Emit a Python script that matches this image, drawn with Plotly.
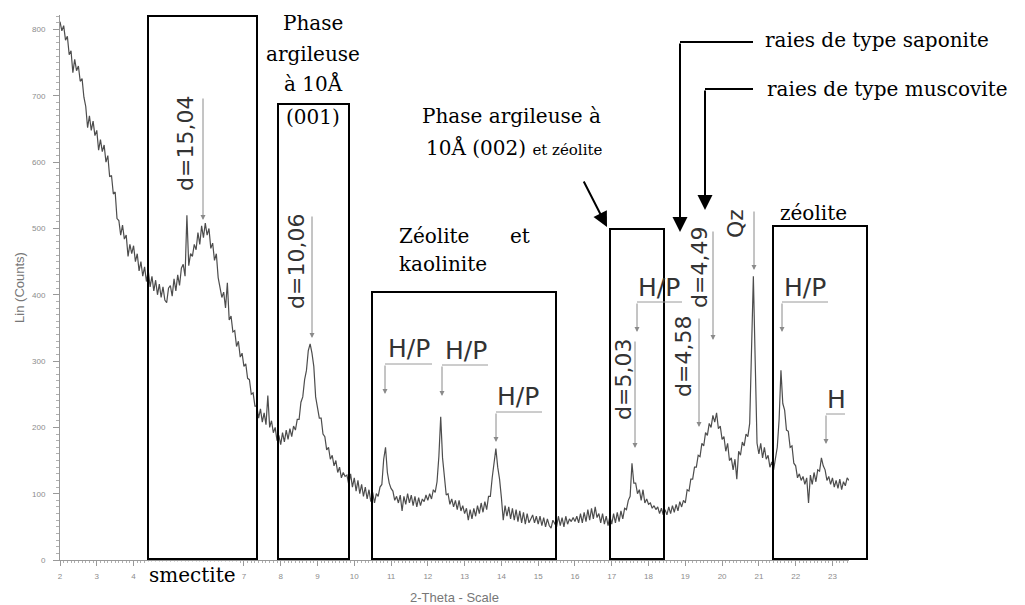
import plotly.graph_objects as go

# diffractogram: 2-theta start / step of the scan, counts
theta_start = 2.0
theta_step = 0.05

counts = [
    812, 798, 806, 784, 790, 762, 768, 735, 755, 738, 745, 722, 726, 698, 684, 652, 670, 648, 662, 640,   # 2
    648, 618, 634, 616, 626, 600, 610, 578, 580, 552, 555, 515, 512, 490, 505, 484, 490, 458, 476, 462,   # 3
    474, 450, 462, 436, 450, 428, 442, 420, 436, 412, 428, 406, 422, 400, 416, 396, 412, 392, 388, 410,   # 4
    414, 398, 424, 406, 430, 414, 440, 446, 428, 520, 444, 462, 458, 476, 468, 494, 476, 504, 486, 508,   # 5
    490, 500, 470, 478, 452, 462, 426, 412, 396, 404, 380, 418, 362, 368, 344, 346, 322, 330, 306, 312,   # 6
    292, 296, 274, 272, 250, 252, 232, 232, 214, 228, 208, 222, 204, 248, 200, 210, 192, 200, 180, 188,   # 7
    174, 192, 178, 196, 182, 198, 186, 202, 196, 212, 212, 238, 246, 272, 286, 316, 326, 312, 292, 246,   # 8
    230, 214, 214, 190, 186, 166, 170, 152, 158, 142, 150, 132, 140, 124, 132, 126, 128, 114, 130, 110,   # 9
    124, 104, 120, 100, 114, 96, 110, 92, 106, 88, 102, 86, 100, 96, 110, 114, 152, 170, 132, 116,        # 10
    108, 104, 90, 96, 86, 98, 74, 96, 84, 100, 86, 98, 82, 96, 80, 94, 82, 92, 88, 98,                    # 11
    90, 100, 92, 106, 102, 118, 156, 216, 154, 124, 98, 100, 84, 92, 80, 90, 76, 90, 74, 82,              # 12
    70, 78, 60, 76, 62, 78, 66, 82, 70, 86, 72, 88, 76, 96, 96, 124, 148, 168, 140, 122,                  # 13
    94, 60, 82, 66, 80, 62, 78, 60, 76, 58, 74, 56, 72, 54, 70, 56, 62, 68, 56, 66,                       # 14
    54, 66, 52, 64, 50, 62, 52, 48, 60, 56, 50, 66, 52, 64, 50, 66, 54, 62, 58, 64,                       # 15
    58, 66, 56, 70, 56, 72, 58, 76, 60, 78, 62, 80, 64, 70, 56, 70, 54, 66, 52, 66,                       # 16
    54, 70, 56, 72, 58, 74, 62, 78, 76, 90, 96, 146, 116, 116, 100, 106, 90, 106, 86, 92,                 # 17
    84, 86, 78, 82, 76, 80, 70, 78, 68, 76, 68, 80, 70, 82, 72, 84, 74, 88, 80, 90,                       # 18
    86, 106, 104, 122, 122, 140, 140, 158, 156, 176, 172, 192, 188, 206, 200, 218, 208, 222, 198, 202,    # 19
    182, 186, 164, 176, 150, 154, 136, 152, 122, 164, 158, 178, 172, 190, 186, 206, 300, 428, 300, 176,   # 20
    160, 176, 154, 170, 152, 158, 140, 148, 136, 156, 170, 212, 286, 236, 226, 196, 194, 170, 172, 146,   # 21
    142, 124, 130, 120, 126, 114, 124, 86, 128, 114, 132, 118, 136, 134, 154, 142, 136, 120, 126, 114,    # 22
    124, 110, 120, 108, 122, 106, 118, 112, 124, 120,                                                     # 23
]

# page geometry (1025 x 605) and helpers turning page pixels into paper fractions
W, H = 1025, 605
ML, MR, MT, MB = 60, 176, 15, 45
PW, PH = W - ML - MR, H - MT - MB


def fx(px):
    return (px - ML) / PW


def fy(py):
    return (H - MB - py) / PH


# boxes around groups of reflections: left, top, right, bottom (page pixels)
boxes = [
    (148, 16, 257, 559),
    (278, 104, 349, 559),
    (372, 292, 556, 559),
    (610, 229, 664, 559),
    (773, 226, 867, 559),
]

# serif comments: text, x, y, anchor
serif_labels = [
    ("Phase", 313, 23, "center"),
    ("argileuse", 313, 54, "center"),
    ("à 10Å", 313, 84, "center"),
    ("(001)", 313, 117, "center"),
    ("Zéolite", 397, 236, "left"),
    ("et", 532, 236, "right"),
    ("kaolinite", 397, 264, "left"),
    ("Phase argileuse à", 511, 116, "center"),
    ("10Å (002) <span style='font-size:15px'>et zéolite</span>", 514, 148, "center"),
    ("raies de type saponite", 763, 40, "left"),
    ("raies de type muscovite", 765, 89, "left"),
    ("zéolite", 813, 213, "center"),
]

# peak labels from the diffractometer software: text, x, y, angle, size
peak_labels = [
    ("d=15,04", 186, 144, -90, 22),
    ("d=10,06", 296, 262, -90, 22),
    ("d=5,03", 623, 380, -90, 22),
    ("d=4,58", 684, 357, -90, 22),
    ("d=4,49", 699, 268, -90, 22),
    ("Qz", 736, 224, -90, 22),
    ("H/P", 409, 349, 0, 25),
    ("H/P", 466, 350, 0, 25),
    ("H/P", 518, 397, 0, 25),
    ("H/P", 659, 287, 0, 25),
    ("H/P", 805, 287, 0, 25),
    ("H", 836, 399, 0, 25),
]

# thin grey leaders: vertical (x, top, tip) and horizontal (x0, x1, y)
grey_arrows = [
    (203, 97, 220), (312, 215, 338), (385, 364, 394), (442, 365, 396),
    (496, 412, 442), (637, 302, 332), (635, 340, 448), (699, 317, 427),
    (713, 230, 340), (754, 210, 270), (782, 302, 332), (826, 414, 444),
]
grey_bars = [
    (385, 432, 364), (442, 488, 365), (496, 542, 412),
    (637, 682, 302), (782, 828, 302), (826, 845, 414),
]

# black arrows of the comments: tail (x, y) -> head (x, y), plus elbows
black_arrows = [
    ((680, 42), (680, 232)),
    ((705, 89), (705, 210)),
    ((583, 180), (607, 227)),
]
black_bars = [(680, 753, 42), (705, 753, 89)]

fig = go.Figure()
fig.add_trace(go.Scatter(
    y=counts, x0=theta_start, dx=theta_step,
    mode="lines",
    line=dict(color="#4d4d4d", width=1.2),
    hoverinfo="skip",
))

shapes = []
for x0, y0, x1, y1 in boxes:
    shapes.append(dict(type="rect", xref="paper", yref="paper",
                       x0=fx(x0), x1=fx(x1), y0=fy(y1), y1=fy(y0),
                       line=dict(color="black", width=2)))
for x0, x1, y in grey_bars:
    shapes.append(dict(type="line", xref="paper", yref="paper",
                       x0=fx(x0), x1=fx(x1), y0=fy(y), y1=fy(y),
                       line=dict(color="#9a9a9a", width=1)))
for x0, x1, y in black_bars:
    shapes.append(dict(type="line", xref="paper", yref="paper",
                       x0=fx(x0), x1=fx(x1), y0=fy(y), y1=fy(y),
                       line=dict(color="black", width=2)))

annotations = []
for text, x, y, anchor in serif_labels:
    annotations.append(dict(text=text, xref="paper", yref="paper",
                            x=fx(x), y=fy(y), xanchor=anchor, yanchor="middle",
                            showarrow=False,
                            font=dict(family="DejaVu Serif", size=20, color="black")))
# "smectite" sits over the tick labels 5 and 6, hiding them as in the original
annotations.append(dict(text="smectite", xref="paper", yref="paper",
                        x=fx(192), y=fy(575), xanchor="center", yanchor="middle",
                        showarrow=False, bgcolor="white",
                        font=dict(family="DejaVu Serif", size=20, color="black")))
for text, x, y, angle, size in peak_labels:
    annotations.append(dict(text=text, xref="paper", yref="paper",
                            x=fx(x), y=fy(y), xanchor="center", yanchor="middle",
                            textangle=angle, showarrow=False,
                            font=dict(family="DejaVu Sans", size=size, color="#333333")))
for x, top, tip in grey_arrows:
    annotations.append(dict(text="", xref="paper", yref="paper",
                            x=fx(x), y=fy(tip), axref="pixel", ayref="pixel",
                            ax=0, ay=top - tip, showarrow=True,
                            arrowhead=2, arrowsize=1, arrowwidth=1,
                            arrowcolor="#8a8a8a", standoff=0))
for (tx, ty), (hx, hy) in black_arrows:
    annotations.append(dict(text="", xref="paper", yref="paper",
                            x=fx(hx), y=fy(hy), axref="pixel", ayref="pixel",
                            ax=tx - hx, ay=ty - hy, showarrow=True,
                            arrowhead=2, arrowsize=1.5, arrowwidth=2,
                            arrowcolor="black", standoff=0))

tick_font = dict(family="Liberation Sans", size=8, color="#8c8c8c")
fig.update_layout(
    width=W, height=H,
    margin=dict(l=ML, r=MR, t=MT, b=MB, autoexpand=False),
    paper_bgcolor="white", plot_bgcolor="white",
    showlegend=False,
    shapes=shapes,
    annotations=annotations,
    xaxis=dict(
        range=[2, 23.45], tick0=2, dtick=1, automargin=False,
        ticks="outside", ticklen=5, tickcolor="#999999",
        showline=True, linecolor="#999999", linewidth=1,
        showgrid=False, zeroline=False,
        tickfont=tick_font, ticklabelstandoff=3,
        minor=dict(dtick=0.1, ticks="outside", ticklen=2, tickcolor="#b0b0b0"),
        title=dict(text="2-Theta - Scale", standoff=17,
                   font=dict(family="Liberation Sans", size=13, color="#777777")),
    ),
    yaxis=dict(
        range=[0, 822], tick0=0, dtick=100, automargin=False,
        ticks="outside", ticklen=6, tickcolor="#999999",
        showline=True, linecolor="#999999", linewidth=1,
        showgrid=False, zeroline=False,
        tickfont=tick_font, ticklabelstandoff=6,
        minor=dict(dtick=10, ticks="outside", ticklen=3, tickcolor="#b0b0b0"),
        title=dict(text="Lin (Counts)", standoff=4,
                   font=dict(family="Liberation Sans", size=13, color="#777777")),
    ),
)

# the page body has a default 8px margin; drop it so the figure fills the window
fig.write_html("out.html", config={"displayModeBar": False},
               post_script="document.body.style.margin = '0';")
